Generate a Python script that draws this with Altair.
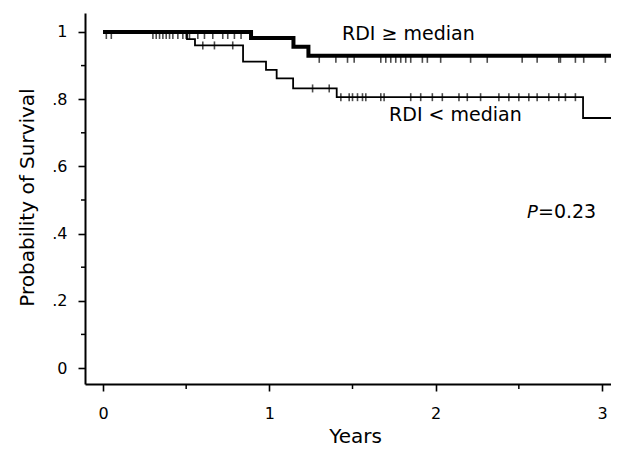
import altair as alt
import pandas as pd

# Kaplan-Meier step curves (time in years, survival probability)
hi_times = [0.0, 0.89, 1.145, 1.235, 3.11]
hi_surv = [1.0, 0.982, 0.956, 0.929, 0.929]
lo_times = [0.0, 0.505, 0.553, 0.842, 0.98, 1.044, 1.143, 1.405, 2.886, 3.11]
lo_surv = [1.0, 0.979, 0.960, 0.912, 0.887, 0.862, 0.832, 0.806, 0.744, 0.744]

# censoring times
hi_censor = [0.02, 0.05, 0.30, 0.32, 0.34, 0.36, 0.38, 0.40, 0.42, 0.45, 0.48, 0.50,
             0.52, 0.57, 0.61, 0.66, 0.72, 0.75, 0.79, 0.83, 1.30, 1.40, 1.47, 1.51,
             1.67, 1.70, 1.73, 1.76, 1.79, 1.82, 1.85, 1.92, 1.95, 2.03, 2.21, 2.31,
             2.52, 2.61, 2.74, 2.75, 2.84, 2.89, 3.02]
lo_censor = [0.60, 0.67, 0.78, 1.26, 1.36, 1.43, 1.48, 1.50, 1.53, 1.56, 1.58, 1.67,
             1.69, 1.85, 1.91, 1.98, 2.04, 2.14, 2.19, 2.27, 2.38, 2.44, 2.50, 2.56,
             2.61, 2.68, 2.74, 2.78, 2.84]

y_major = [0, 0.2, 0.4, 0.6, 0.8, 1.0]
y_minor = [0.1, 0.3, 0.5, 0.7, 0.9]
x_major = [0, 1, 2, 3]
x_minor = [0.5, 1.5, 2.5]

labels = ["RDI \u2265 median", "RDI < median", "=0.23"]
label_x = [1.437, 1.72, 2.615]
label_y = [0.976, 0.735, 0.446]
p_label = "P"
p_x = 2.549
p_y = 0.446


def level(times, surv, t):
    lv = surv[0]
    for ti, si in zip(times, surv):
        if ti <= t:
            lv = si
    return lv


hi_df = pd.DataFrame({"t": hi_times, "s": hi_surv})
lo_df = pd.DataFrame({"t": lo_times, "s": lo_surv})
hi_c = pd.DataFrame({"t": hi_censor, "s": [level(hi_times, hi_surv, t) for t in hi_censor]})
lo_c = pd.DataFrame({"t": lo_censor, "s": [level(lo_times, lo_surv, t) for t in lo_censor]})
lab_df = pd.DataFrame({"t": label_x, "s": label_y, "txt": labels})
p_df = pd.DataFrame({"t": [p_x], "s": [p_y], "txt": [p_label]})
xmin_df = pd.DataFrame({"t": x_minor})
ymin_df = pd.DataFrame({"s": y_minor})

xs = alt.Scale(domain=[-0.1082, 3.054], nice=False, zero=False)
ys = alt.Scale(domain=[-0.0476, 1.0565], nice=False, zero=False)
FONT = "DejaVu Sans"

x_axis = alt.Axis(values=x_major, title="Years", format="d", titleFontSize=20,
                  titleFont=FONT, titleFontWeight="normal", titleColor="black",
                  titleX=270, titleY=58, titleBaseline="alphabetic", titleAlign="center",
                  labelPadding=14, tickSize=7, grid=False)
y_axis = alt.Axis(values=y_major, title="Probability of Survival",
                  labelExpr="datum.value >= 1 ? '1' : (datum.value <= 0 ? '0' : '.' + round(datum.value*10))",
                  titleFontSize=20, titleFont=FONT, titleFontWeight="normal", titleColor="black",
                  titleX=-58, titleY=184, titleAngle=270, titleBaseline="middle", titleAlign="center",
                  labelPadding=11, tickSize=7, grid=False)

X = alt.X("t:Q", scale=xs, axis=x_axis, title="Years")
Y = alt.Y("s:Q", scale=ys, axis=y_axis, title="Probability of Survival")

hi_line = alt.Chart(hi_df).mark_line(interpolate="step-after", color="black", strokeWidth=4, clip=True).encode(x=X, y=Y)
lo_line = alt.Chart(lo_df).mark_line(interpolate="step-after", color="black", strokeWidth=1.8, clip=True).encode(x=X, y=Y)
hi_ticks = alt.Chart(hi_c).mark_tick(orient="vertical", color="black", size=8, thickness=1.6, yOffset=3).encode(x=X, y=Y)
lo_ticks = alt.Chart(lo_c).mark_tick(orient="vertical", color="black", size=8, thickness=1.6).encode(x=X, y=Y)
y_minor_ticks = alt.Chart(ymin_df).mark_rule(color="black", strokeWidth=1.5).encode(
    y=Y, x=alt.value(-4), x2=alt.value(0),
)
x_minor_ticks = alt.Chart(xmin_df).mark_rule(color="black", strokeWidth=1.5).encode(
    x=X, y=alt.value(371), y2=alt.value(376),
)
texts = alt.Chart(lab_df).mark_text(align="left", baseline="alphabetic", font=FONT, fontSize=19, color="black").encode(
    x=X, y=Y, text="txt:N",
)
ptext = alt.Chart(p_df).mark_text(align="left", baseline="alphabetic", font=FONT, fontSize=18,
                                  fontStyle="italic", color="black").encode(
    x=X, y=Y, text="txt:N",
)

chart = alt.layer(hi_line, lo_line, hi_ticks, lo_ticks, y_minor_ticks, x_minor_ticks, texts, ptext).properties(
    width=526, height=371,
    autosize=alt.AutoSizeParams(type="none"),
    padding={"left": 77, "top": 5, "right": 0, "bottom": 64},
).configure_view(stroke=None).configure_axis(
    grid=False, domainColor="black", domainWidth=2, tickColor="black", tickWidth=1.6,
    labelFont=FONT, labelFontSize=16, labelColor="black",
)

chart.save("out.html", embed_options={"renderer": "svg", "actions": False})
